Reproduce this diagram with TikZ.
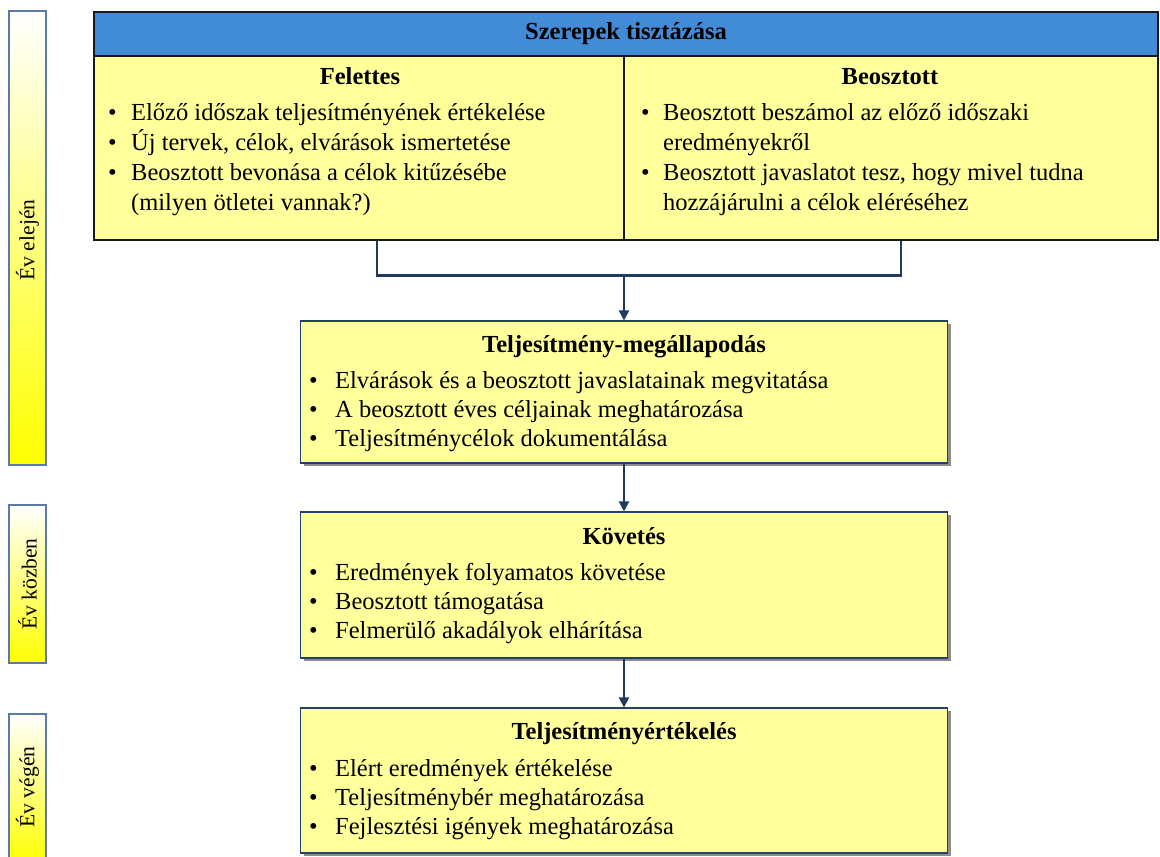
\documentclass[tikz,border=0pt]{standalone}
\usepackage{fontspec}
\setmainfont{Liberation Serif}
\usetikzlibrary{shadows,arrows.meta}

\definecolor{hdrblue}{HTML}{428BD7}
\definecolor{boxyellow}{HTML}{FFFF9C}
\definecolor{linknavy}{HTML}{1F3A60}
\definecolor{barline}{HTML}{5B7BA6}
\definecolor{boxline}{HTML}{25406A}

% text sizes
\newcommand\bodyfs{\fontsize{24.5}{29}\selectfont}
\newcommand\topfs{\fontsize{24.5}{30}\selectfont}
\newcommand\barfs{\fontsize{21.5}{26}\selectfont}
% bullet set in a box of the given width, and a matching indent
\newcommand\bul[1]{\makebox[#1][l]{\textbullet}}
\newcommand\ind[1]{\hspace*{#1}}

\tikzset{
  conn/.style={draw=linknavy, line width=2.2pt},
  arr/.style={conn, -{Triangle[width=10pt,length=10pt]}},
  phasebar/.style={draw=barline, line width=1.5pt, top color=white,
    bottom color=yellow, minimum width=37pt, inner sep=0pt},
  phaselabel/.style={rotate=90, font=\barfs, inner sep=0pt},
  topcell/.style={draw=black!90, line width=1.6pt, inner sep=0pt},
  stagebox/.style={draw=boxline, line width=1.2pt, fill=boxyellow,
    minimum width=647pt, inner sep=0pt,
    drop shadow={shadow xshift=3pt, shadow yshift=-3pt, fill=black!45, opacity=1}},
  ttl/.style={font=\bodyfs\bfseries, anchor=base, inner sep=0pt},
  blist/.style={anchor=base west, inner sep=0pt},
}

\begin{document}
\begin{tikzpicture}[x=1pt,y=-1pt]
\useasboundingbox (0,0) rectangle (1160,857);

% phase bars on the left
\node[phasebar, minimum height=454pt] (bar1) at (27.5,238) {};
\node[phasebar, minimum height=158pt] (bar2) at (27.5,584) {};
\node[phasebar, minimum height=150pt] (bar3) at (27.5,789) {};
\node[phaselabel] (lab1) at ([yshift=-2pt]bar1.center) {Év elején};
\node[phaselabel] (lab2) at (bar2.center) {Év közben};
\node[phaselabel] (lab3) at ([yshift=2pt]bar3.center) {Év végén};

% role clarification table
\node[topcell, fill=hdrblue, minimum width=1064pt, minimum height=44pt,
      font=\bodyfs\bfseries] (hdr) at (626,34) {Szerepek tisztázása};
\node[topcell, fill=boxyellow, minimum width=530pt, minimum height=184pt] (fel) at (359,148) {};
\node[topcell, fill=boxyellow, minimum width=534pt, minimum height=184pt] (beo) at (891,148) {};

\node[ttl] (felT) at (360,84) {Felettes};
\node[ttl] (beoT) at (890,84) {Beosztott};

\node[blist] (felL) at (108,120) {\topfs\begin{tabular}[t]{@{}l@{}}
\bul{23pt}Előző időszak teljesítményének értékelése\\
\bul{23pt}Új tervek, célok, elvárások ismertetése\\
\bul{23pt}Beosztott bevonása a célok kitűzésébe\\
\ind{23pt}(milyen ötletei vannak?)
\end{tabular}};

\node[blist] (beoL) at (641,120) {\topfs\begin{tabular}[t]{@{}l@{}}
\bul{22pt}Beosztott beszámol az előző időszaki\\
\ind{22pt}eredményekről\\
\bul{22pt}Beosztott javaslatot tesz, hogy mivel tudna\\
\ind{22pt}hozzájárulni a célok eléréséhez
\end{tabular}};

% stage boxes
\node[stagebox, minimum height=142pt] (box2) at (624,392) {};
\node[stagebox, minimum height=146pt] (box3) at (624,585) {};
\node[stagebox, minimum height=145pt] (box4) at (624,780.5) {};

\node[ttl] (t2) at (624,352) {Teljesítmény-megállapodás};
\node[blist] (l2) at (309,388) {\bodyfs\begin{tabular}[t]{@{}l@{}}
\bul{26pt}Elvárások és a beosztott javaslatainak megvitatása\\
\bul{26pt}A beosztott éves céljainak meghatározása\\
\bul{26pt}Teljesítménycélok dokumentálása
\end{tabular}};

\node[ttl] (t3) at (624,544) {Követés};
\node[blist] (l3) at (309,580) {\bodyfs\begin{tabular}[t]{@{}l@{}}
\bul{26pt}Eredmények folyamatos követése\\
\bul{26pt}Beosztott támogatása\\
\bul{26pt}Felmerülő akadályok elhárítása
\end{tabular}};

\node[ttl] (t4) at (624,739) {Teljesítményértékelés};
\node[blist] (l4) at (309,776) {\bodyfs\begin{tabular}[t]{@{}l@{}}
\bul{26pt}Elért eredmények értékelése\\
\bul{26pt}Teljesítménybér meghatározása\\
\bul{26pt}Fejlesztési igények meghatározása
\end{tabular}};

% connectors
\path (box2.north) ++(0,-45) coordinate (join);
\draw[conn] ([xshift=18pt]fel.south) |- (join) -| ([xshift=10pt]beo.south);
\draw[arr] (join) -- (box2.north);
\draw[arr] (box2.south) -- (box3.north);
\draw[arr] (box3.south) -- (box4.north);
\end{tikzpicture}
\end{document}
